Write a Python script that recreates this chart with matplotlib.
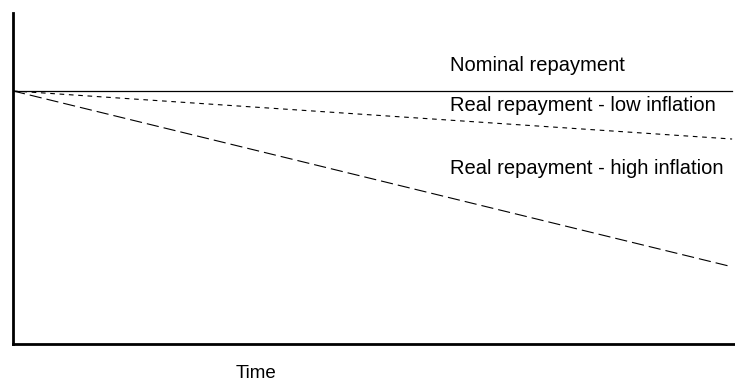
import numpy as np
import matplotlib.pyplot as plt

plt.rcParams['font.family'] = ['Liberation Sans', 'DejaVu Sans']

# time from start to end of the loan, value of each repayment
time = [0, 10]
nominal = [100, 100]
real_low = [100, 81]
real_high = [100, 30.5]

fig = plt.figure(figsize=(7.35, 3.85), dpi=100)
ax = fig.add_axes([13 / 735, 1 - 344 / 385, 1 - 13 / 735, (344 - 13) / 385])

ax.plot(time, nominal, color='black', lw=0.9)
ax.plot(time, real_low, color='black', lw=0.8, dashes=(4.2, 4.2))
ax.plot(time, real_high, color='black', lw=0.8, dashes=(11, 4.5))

ax.set_xlim(0, 10.04)
ax.set_ylim(0, 130.8)

ax.text(6.07, 110, "Nominal repayment", fontsize=14.5, va='center')
ax.text(6.07, 94.2, "Real repayment - low inflation", fontsize=14.5, va='center')
ax.text(6.07, 69.2, "Real repayment - high inflation", fontsize=14.5, va='center')

for side in ['top', 'right']:
    ax.spines[side].set_visible(False)
ax.spines['left'].set_linewidth(2)
ax.spines['bottom'].set_linewidth(2)
ax.set_xticks([])
ax.set_yticks([])

fig.text(256 / 735, 1 - 373 / 385, "Time", fontsize=13.5, ha='center', va='center')

fig.savefig("out.png", dpi=100)
